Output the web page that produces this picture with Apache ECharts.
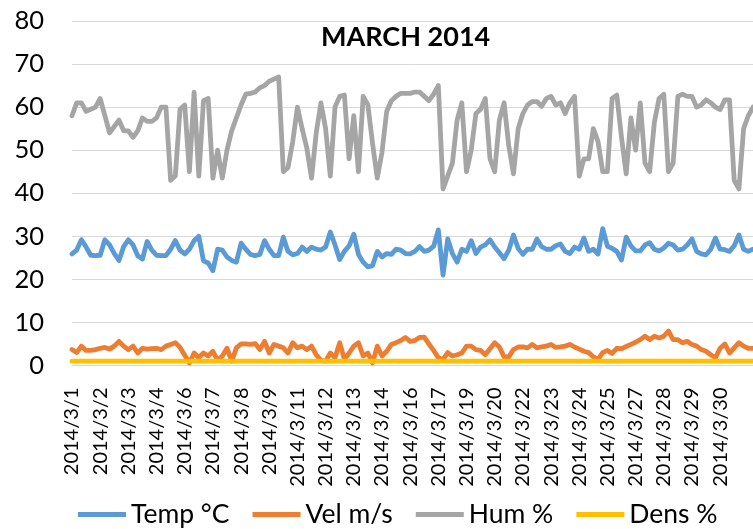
<!DOCTYPE html>
<html>
<head>
<meta charset="utf-8">
<script src="https://cdn.jsdelivr.net/npm/echarts@6/dist/echarts.min.js"></script>
<style>
html,body{margin:0;padding:0;background:#fff;}
#chart{width:753px;height:529px;}
</style>
</head>
<body>
<div id="chart"></div>
<script>
const tickLabels = ['2014/3/1','2014/3/2','2014/3/3','2014/3/4','2014/3/6','2014/3/7','2014/3/8','2014/3/9',
  '2014/3/11','2014/3/12','2014/3/13','2014/3/14','2014/3/16','2014/3/17','2014/3/19','2014/3/20',
  '2014/3/22','2014/3/23','2014/3/24','2014/3/25','2014/3/27','2014/3/28','2014/3/29','2014/3/30'];
const pointsPerLabel = 6;

const temp = [25.9,26.8,29.2,27.5,25.6,25.5,25.6,29.2,28,26,
  24.4,27.6,29.2,28,25.5,24.7,28.8,26.8,25.6,25.5,
  25.5,27,29,26.8,25.9,27,29,30,24.3,23.8,
  22,27,26.8,25.2,24.4,24,28.4,27,25.8,25.5,
  25.8,29,27,25.5,25.5,29.8,26.5,25.7,26,27.5,
  26.5,27.5,27,26.8,27.5,31,28,24.6,26.5,27.8,
  30.5,25.8,24,22.9,23.2,26.5,25.2,26,25.8,27,
  26.8,26,25.9,26.5,27.6,26.5,26.8,27.7,31.5,21,
  29.4,26,24,27,26.5,29,26,27.5,28,29.2,
  27.5,26.2,24.8,26.8,30.3,27.2,25.8,27,27,29.4,
  27.6,27,27,27.8,28.2,26.5,26,27.5,27,29.6,
  26.5,27,25.9,31.8,27.7,27.2,26.5,24.5,29.8,27.8,
  26.6,26.6,28,28.5,27,26.6,27.3,28.4,28,26.8,
  27,28,29.4,26.5,25.9,25.7,27,29.6,27,26.9,
  26.5,27.8,30.3,27,26.5,27];

const vel = [3.7,3.0,4.5,3.5,3.5,3.7,4.0,4.2,3.8,4.5,
  5.6,4.5,3.7,4.5,2.9,4.0,3.8,3.9,4.0,3.7,
  4.5,4.9,5.3,4.2,2.4,0.6,2.9,1.8,2.9,2.2,
  3.3,1.2,2.2,4.0,1.0,4.1,5.0,5.0,4.9,5.1,
  3.7,5.6,2.9,4.9,4.5,4.1,2.9,5.3,4.1,4.5,
  3.7,4.5,2.5,1.2,1.0,2.9,1.8,5.3,1.4,2.9,
  4.5,5.3,2.2,2.9,0.6,4.5,2.2,3.3,4.9,5.3,
  5.8,6.5,5.6,5.8,6.5,6.6,5.0,3.5,1.8,1.4,
  3.0,2.2,2.5,2.9,4.5,4.5,3.7,3.5,2.5,3.9,
  5.3,4.3,2.0,2.0,3.7,4.3,4.3,4.1,4.9,4.1,
  4.3,4.5,4.9,4.2,4.3,4.5,4.9,4.3,3.8,3.3,
  3.0,2.0,1.4,3.0,3.5,2.8,4.0,3.9,4.4,4.9,
  5.4,6.0,6.8,6.0,6.8,6.4,6.8,8.0,6.0,6.0,
  5.3,5.6,4.9,4.5,3.7,3.3,2.5,1.8,4.0,5.0,
  2.9,4.1,5.3,4.5,4.0,4.0];

const hum = [58,61,61,59,59.5,60,62,58,54,55.5,
  57,54.5,54.5,53,54.5,57.5,56.7,56.7,57.5,60,
  60,43,44,59.5,60.5,45,63.5,44,61.5,62,
  43.5,50,43.5,50,54.5,57.5,60.5,63,63.2,63.5,
  64.5,65,66,66.5,67,45,46,52,60,55,
  50.5,43.5,54,61,55,44,60,62.5,62.8,48,
  58,45,62.5,60.5,51.5,43.5,49.5,59,61.5,62.5,
  63.2,63.2,63.2,63.5,63.5,62.5,61.5,63,65,41,
  44,47,57,61,45,50,58.5,59.5,62,48,
  45,57,61,51,44.5,55,58.5,60.5,61.3,61.3,
  60.2,62,62.5,60.5,61,58.5,61,62.5,44,48,
  48,55,52,45,45,62,62.8,53,44.5,57.5,
  50,61,47,45,56.5,62,63,45,47,62.5,
  63,62.5,62.5,60,60.5,61.7,61,60,59.4,61.7,
  61.7,43,41,55,58,60];

const dens = [1,1,1,1,1,1,1,1,1,1, 1,1,1,1,1,1,1,1,1,1, 1,1,1,1,1,1,1,1,1,1,
  1,1,1,1,1,1,1,1,1,1, 1,1,1,1,1,1,1,1,1,1, 1,1,1,1,1,1,1,1,1,1,
  1,1,1,1,1,1,1,1,1,1, 1,1,1,1,1,1,1,1,1,1, 1,1,1,1,1,1,1,1,1,1,
  1,1,1,1,1,1,1,1,1,1, 1,1,1,1,1,1,1,1,1,1, 1,1,1,1,1,1,1,1,1,1,
  1,1,1,1,1,1,1,1,1,1, 1,1,1,1,1,1,1,1,1,1, 1,1,1,1,1,1];

const seriesNames = ['Temp °C','Vel m/s','Hum %','Dens %'];
const seriesColors = ['#5B9BD5','#ED7D31','#A5A5A5','#FFC000'];
const seriesData = [temp, vel, hum, dens];

const categories = temp.map((_, i) =>
  (i % pointsPerLabel === 0 && tickLabels[i / pointsPerLabel]) ? tickLabels[i / pointsPerLabel] : '');

const FONT = 'Lato';
const chart = echarts.init(document.getElementById('chart'), null, {renderer: 'canvas'});
chart.setOption({
  animation: false,
  backgroundColor: '#ffffff',
  title: {
    text: 'MARCH 2014',
    left: 316,
    top: 19,
    textStyle: {fontFamily: FONT, fontSize: 27, fontWeight: 'bold', color: '#000'}
  },
  legend: {
    data: seriesNames,
    left: 73,
    top: 496,
    icon: 'rect',
    itemWidth: 48,
    itemHeight: 5,
    itemGap: 23,
    textStyle: {fontFamily: FONT, fontSize: 26.5, color: '#000'}
  },
  grid: {left: 72, right: -9, top: 21, bottom: 163.5, containLabel: false},
  xAxis: {
    type: 'category',
    data: categories,
    boundaryGap: false,
    axisLine: {show: true, lineStyle: {color: '#d9d9d9', width: 1}},
    axisTick: {show: false},
    axisLabel: {
      rotate: 90,
      margin: 22,
      interval: (idx, val) => val !== '',
      fontFamily: FONT,
      fontSize: 20,
      color: '#000'
    },
    splitLine: {show: false}
  },
  yAxis: {
    type: 'value',
    min: 0, max: 80, interval: 10,
    axisLine: {show: false},
    axisTick: {show: false},
    axisLabel: {margin: 28, fontFamily: FONT, fontSize: 25.5, color: '#000'},
    splitLine: {lineStyle: {color: '#d9d9d9', width: 1}}
  },
  series: seriesData.map((d, k) => ({
    name: seriesNames[k],
    type: 'line',
    data: d,
    showSymbol: false,
    symbol: 'none',
    color: seriesColors[k],
    lineStyle: {width: 4.8, color: seriesColors[k], cap: 'round', join: 'round'}
  }))
});
</script>
</body>
</html>
